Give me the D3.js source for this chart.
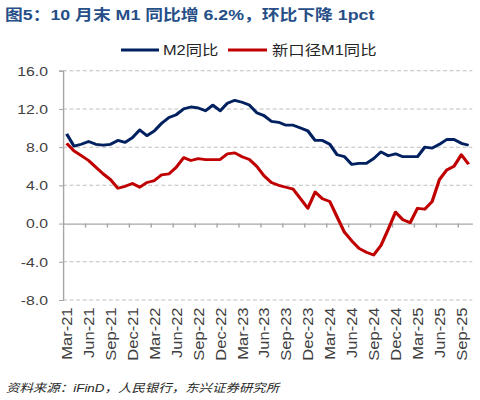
<!DOCTYPE html>
<html>
<head>
<meta charset="utf-8">
<script src="https://cdn.jsdelivr.net/npm/d3@7"></script>
<style>
  html, body { margin: 0; padding: 0; background: #fff; }
  svg { display: block; }
  text { font-family: "Liberation Sans", Arial, "Noto Sans CJK SC", sans-serif; }
</style>
</head>
<body>
<svg id="chart" width="480" height="400"></svg>
<script>
// ---------- data ----------
const categories = [
  "Mar-21","Apr-21","May-21","Jun-21","Jul-21","Aug-21","Sep-21","Oct-21","Nov-21","Dec-21",
  "Jan-22","Feb-22","Mar-22","Apr-22","May-22","Jun-22","Jul-22","Aug-22","Sep-22","Oct-22","Nov-22","Dec-22",
  "Jan-23","Feb-23","Mar-23","Apr-23","May-23","Jun-23","Jul-23","Aug-23","Sep-23","Oct-23","Nov-23","Dec-23",
  "Jan-24","Feb-24","Mar-24","Apr-24","May-24","Jun-24","Jul-24","Aug-24","Sep-24","Oct-24","Nov-24","Dec-24",
  "Jan-25","Feb-25","Mar-25","Apr-25","May-25","Jun-25","Jul-25","Aug-25","Sep-25","Oct-25"
];
const m2Yoy = [
  9.4, 8.1, 8.3, 8.6, 8.3, 8.2, 8.3, 8.7, 8.5, 9.0,
  9.8, 9.2, 9.7, 10.5, 11.1, 11.4, 12.0, 12.2, 12.1, 11.8, 12.4, 11.8,
  12.6, 12.9, 12.7, 12.4, 11.6, 11.3, 10.7, 10.6, 10.3, 10.3, 10.0, 9.7,
  8.7, 8.7, 8.3, 7.2, 7.0, 6.2, 6.3, 6.3, 6.8, 7.5, 7.1, 7.3,
  7.0, 7.0, 7.0, 8.0, 7.9, 8.3, 8.8, 8.8, 8.4, 8.2
];
const m1NewYoy = [
  8.4, 7.6, 7.1, 6.6, 5.9, 5.2, 4.6, 3.7, 3.9, 4.2,
  3.8, 4.3, 4.5, 5.1, 5.2, 5.9, 6.9, 6.6, 6.8, 6.7, 6.7, 6.7,
  7.3, 7.4, 7.0, 6.7, 6.0, 5.0, 4.3, 4.0, 3.8, 3.6, 2.6, 1.6,
  3.3, 2.6, 2.3, 0.7, -0.9, -1.8, -2.6, -3.0, -3.3, -2.3, -0.6, 1.2,
  0.4, 0.1, 1.6, 1.5, 2.3, 4.6, 5.6, 6.0, 7.2, 6.2
];
const yTicks = [-8, -4, 0, 4, 8, 12, 16];
const xTickLabels = ["Mar-21","Jun-21","Sep-21","Dec-21","Mar-22","Jun-22","Sep-22","Dec-22",
  "Mar-23","Jun-23","Sep-23","Dec-23","Mar-24","Jun-24","Sep-24","Dec-24","Mar-25","Jun-25","Sep-25"];
const seriesNames = ["M2同比", "新口径M1同比"];
const titleText = "图5：10 月末 M1 同比增 6.2%，环比下降 1pct";
const sourceText = "资料来源：iFinD，人民银行，东兴证券研究所";

// ---------- layout ----------
const SX = 1.17;               // horizontal stretch of the reference picture
const px = v => v / SX;        // screen px -> group units (x only)
const colors = ["#002060", "#C00000"];
const axisColor = "#A6A6A6";
const gridColor = "#BFBFBF";
const textColor = "#404040";

const svg = d3.select("#chart");
const g = svg.append("g").attr("transform", `scale(${SX},1)`);

const plotL = 63, plotR = 472.3, plotT = 70.7, plotB = 300;
const x = d3.scaleBand().domain(categories).range([px(plotL), px(plotR)]).padding(0);
const xIdx = d3.scaleLinear().domain([0, categories.length]).range([px(plotL), px(plotR)]);
const y = d3.scaleLinear().domain([-8, 16]).range([plotB, plotT]);

// gridlines (dashed, non-zero)
g.append("g").selectAll("line").data(yTicks.filter(d => d !== 0)).join("line")
  .attr("x1", px(plotL)).attr("x2", px(plotR))
  .attr("y1", d => y(d)).attr("y2", d => y(d))
  .attr("stroke", gridColor).attr("stroke-width", 1)
  .attr("stroke-dasharray", "3.4,2.2");

// y axis
const yAxis = g.append("g").attr("transform", `translate(${px(plotL)},0)`)
  .call(d3.axisLeft(y).tickValues(yTicks).tickSize(px(4)).tickPadding(px(11))
    .tickFormat(d => d.toFixed(1)));
yAxis.select(".domain").attr("stroke", axisColor).attr("stroke-width", 1.2);
yAxis.selectAll(".tick line").attr("stroke", axisColor);
yAxis.selectAll(".tick text").attr("fill", textColor).style("font-size", "13.5px");

// x axis at zero
const xAxis = g.append("g").attr("transform", `translate(0,${y(0)})`)
  .call(d3.axisBottom(xIdx).tickValues(d3.range(3, 55, 3)).tickSize(4).tickSizeOuter(0).tickFormat(""));
xAxis.select(".domain").attr("stroke", axisColor).attr("stroke-width", 1.2);
xAxis.selectAll(".tick line").attr("stroke", axisColor).attr("stroke-width", 1.2);

// x labels (rotated)
g.append("g").selectAll("text").data(xTickLabels).join("text")
  .attr("transform", d => `translate(${x(d) + x.bandwidth() / 2},${307.5}) rotate(-90) scale(1.27,1)`)
  .attr("text-anchor", "end").attr("dy", "0.36em")
  .attr("fill", textColor).style("font-size", "13px")
  .text(d => d);

// lines
const line = d3.line().x((d, i) => x(categories[i]) + x.bandwidth() / 2).y(d => y(d));
[m2Yoy, m1NewYoy].forEach((s, k) => {
  g.append("path").datum(s).attr("d", line)
    .attr("fill", "none").attr("stroke", colors[k]).attr("stroke-width", 2.8)
    .attr("stroke-linejoin", "round");
});

// legend
const legendItems = [
  { x1: 121, x2: 159, tx: 163 },
  { x1: 228, x2: 267, tx: 272 }
];
legendItems.forEach((it, k) => {
  g.append("line").attr("x1", px(it.x1)).attr("x2", px(it.x2)).attr("y1", 50).attr("y2", 50)
    .attr("stroke", colors[k]).attr("stroke-width", 3);
  g.append("text").attr("x", px(it.tx)).attr("y", 55).attr("fill", "#262626")
    .style("font-size", "14px").text(seriesNames[k]);
});

// title
g.append("text").attr("x", px(5)).attr("y", 20.5)
  .attr("fill", "#264E87").style("font-size", "15.2px").style("font-weight", "bold")
  .text(titleText);

// source
g.append("text").attr("x", px(6)).attr("y", 392)
  .attr("fill", "#262626").style("font-size", "11.5px").style("font-style", "italic")
  .text(sourceText);
</script>
</body>
</html>
